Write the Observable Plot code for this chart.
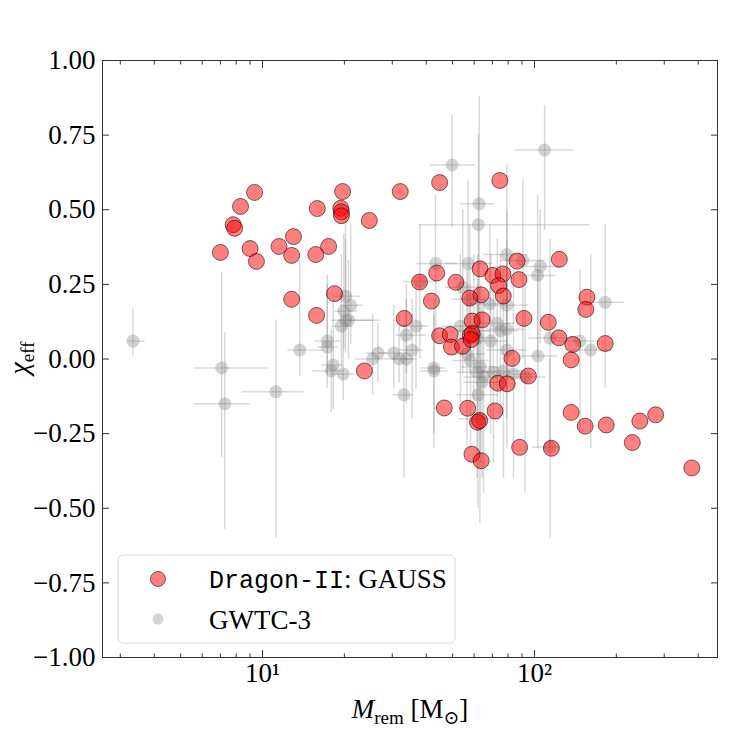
<!DOCTYPE html>
<html><head><meta charset="utf-8">
<script src="https://cdn.jsdelivr.net/npm/d3@7"></script>
<script src="https://cdn.jsdelivr.net/npm/@observablehq/plot@0.6"></script>
<style>body{margin:0;background:#fff}</style>
</head><body>
<script>
// Dragon-II: GAUSS remnants
const dragonM = [7.0,7.8,7.9,8.3,9.35,9.0,9.5,11.5,13.0,12.8,12.8,15.9,15.7,15.8,17.5,18.4,19.4,19.5,19.5,19.7,24.7,23.7,32.1,33.2,37.8,44.8,74.6,43.7,41.8,51.4,63.1,70.3,76.6,86.3,87.7,73.8,76.8,63.6,57.8,123.4,155.9,154.5,91.5,112.4,123,138.3,182,136.4,59,64.2,44.8,49,49.5,54.4,58,59,58.5,82.7,95,73.3,79.4,46.6,56.8,71.6,61.8,62.9,136.4,153.6,183.6,244,279,229,88.2,115.4,58.9,63.7,379];
const dragonChi = [0.357,0.450,0.438,0.511,0.558,0.370,0.327,0.377,0.410,0.347,0.200,0.504,0.350,0.146,0.377,0.219,0.505,0.493,0.480,0.561,0.464,-0.040,0.561,0.136,0.258,0.591,0.598,0.288,0.194,0.257,0.302,0.280,0.285,0.328,0.266,0.246,0.211,0.215,0.204,0.334,0.207,0.166,0.136,0.123,0.071,0.049,0.052,-0.003,0.127,0.131,0.078,0.082,0.040,0.043,0.079,0.085,0.065,0.002,-0.057,-0.081,-0.083,-0.164,-0.165,-0.174,-0.212,-0.206,-0.179,-0.225,-0.221,-0.208,-0.187,-0.280,-0.296,-0.299,-0.319,-0.341,-0.365];

// GWTC-3 events: remnant mass (median, lower, upper) and chi_eff (median, lower, upper)
const gwM   = [3.34,7.08,7.27,11.2,13.7,17.3,17.3,18.2,17.9,19.8,20.2,21.1,19.9,20.2,20.7,19.5,25.4,26.6,30.4,31.8,33.8,33.8,33.1,36.7,35.5,42.7,42.7,43.3,57,79.1,90.6,105,102.7,37.9,54.5,57.8,68.5,79.1,53.4,59.8,61.9,69,73,79,75,56.5,58.2,63.2,61.5,65,64.1,70.7,76.9,79.1,83.7,92.3,62,63,114,147,161,182,103,49.8,109,62.6,62.2,114];
const gwMlo = [3.2,5.6,5.6,8.4,12.4,15.6,16,16.5,15.3,18,18.5,19.3,18.5,18,19,18,22,24,27,28,30,31,30,32,32,38,38,37,47,65,75,90,88,33,47,50,58,65,46,52,53,59,62,67,64,48,50,54,52,55,55,60,65,67,70,77,52,53,95,120,135,150,88,41.5,85,53.4,37.5,98];
const gwMhi = [3.7,10.5,9.0,14.2,16.7,19.5,19,19.8,20,22,23,23.5,22.3,25.5,27,21.5,28,29,34,36,37,40,36,41,39,47,48,52,70,95,110,125,120,44,62,66,80,95,62,69,72,80,85,92,88,66,68,74,72,77,75,83,92,94,100,110,74,75,140,175,195,215,122,60.7,139,71.5,160,125];
const gwChi   = [0.06,-0.03,-0.15,-0.11,0.03,0.06,0.04,-0.02,-0.04,-0.05,0.21,0.18,0.16,0.13,0.13,0.11,0.00,0.02,0.02,0.00,0.00,0.08,-0.12,0.11,0.03,-0.03,-0.04,0.32,0.32,0.35,0.33,0.31,0.28,0.26,0.24,0.20,0.185,0.18,0.11,0.095,0.07,0.06,0.12,0.10,0.095,0.017,-0.005,-0.027,-0.044,-0.06,-0.078,-0.044,-0.04,0.03,-0.05,-0.06,-0.12,-0.20,0.07,0.06,0.03,0.19,0.01,0.65,0.70,0.52,0.45,-0.295];
const gwChiLo = [0.01,-0.33,-0.57,-0.60,-0.06,-0.05,-0.10,-0.17,-0.18,-0.14,0.10,0.05,0.03,0.02,0.00,-0.03,-0.12,-0.08,-0.10,-0.08,-0.15,-0.05,-0.40,-0.10,-0.20,-0.25,-0.30,0.05,0.05,0.00,0.00,0.05,0.00,0.00,-0.05,-0.05,-0.10,-0.10,-0.15,-0.15,-0.20,-0.25,-0.15,-0.20,-0.20,-0.30,-0.30,-0.35,-0.40,-0.45,-0.40,-0.35,-0.40,-0.30,-0.40,-0.45,-0.50,-0.55,-0.30,-0.25,-0.30,-0.10,-0.30,0.44,0.43,0.05,0.00,-0.60];
const gwChiHi = [0.17,0.29,0.09,0.13,0.33,0.28,0.25,0.20,0.10,0.12,0.50,0.45,0.42,0.40,0.33,0.35,0.15,0.12,0.18,0.15,0.25,0.20,0.12,0.25,0.20,0.20,0.15,0.55,0.60,0.65,0.60,0.50,0.55,0.45,0.50,0.45,0.45,0.50,0.35,0.35,0.35,0.35,0.40,0.40,0.35,0.30,0.25,0.25,0.25,0.20,0.20,0.25,0.30,0.35,0.30,0.25,0.20,0.15,0.40,0.30,0.35,0.45,0.30,0.82,0.85,0.88,0.75,0.00];

const yTicks = [-1,-0.75,-0.5,-0.25,0,0.25,0.5,0.75,1];
const xMajor = [10,100];
const xMajorLabels = ["10¹","10²"];
const xMinor = [3,4,5,6,7,8,9,20,30,40,50,60,70,80,90,200,300,400];
const legendLabels = ["Dragon-II", ": GAUSS", "GWTC-3"];

const dragon = dragonM.map((m,i)=>({m, c: dragonChi[i]}));
const gw = gwM.map((m,i)=>({m, mlo: gwMlo[i], mhi: gwMhi[i], c: gwChi[i], clo: gwChiLo[i], chi: gwChiHi[i]}));

const serif = "'Liberation Serif', 'DejaVu Serif', serif";
const mono = "'Liberation Mono', 'DejaVu Sans Mono', monospace";
const axisColor = "#333";

const chart = Plot.plot({
  width: 747, height: 747,
  marginLeft: 102, marginRight: 30, marginTop: 60, marginBottom: 90,
  style: {fontFamily: serif, fontSize: "27px", color: "#000", background: "#fff"},
  x: {type: "log", domain: [2.58, 471], axis: null},
  y: {domain: [-1, 1], axis: null},
  marks: [
    Plot.ruleX(gw, {x: "m", y1: "clo", y2: "chi", stroke: "gray", strokeOpacity: 0.3, strokeWidth: 1.5}),
    Plot.ruleY(gw, {y: "c", x1: "mlo", x2: "mhi", stroke: "gray", strokeOpacity: 0.3, strokeWidth: 1.5}),
    Plot.dot(gw, {x: "m", y: "c", r: 6.5, fill: "gray", fillOpacity: 0.35, stroke: "none"}),
    Plot.dot(dragon, {x: "m", y: "c", r: 8, fill: "red", fillOpacity: 0.5, stroke: "black", strokeOpacity: 0.55, strokeWidth: 1}),
    Plot.frame({stroke: axisColor, strokeWidth: 1}),
    // inward ticks
    Plot.axisY(yTicks, {anchor: "left", tickSize: -7, tickFormat: () => "", stroke: axisColor}),
    Plot.axisY(yTicks, {anchor: "right", tickSize: -7, tickFormat: () => "", stroke: axisColor}),
    Plot.axisX(xMajor, {anchor: "bottom", tickSize: -7, tickFormat: () => "", stroke: axisColor}),
    Plot.axisX(xMajor, {anchor: "top", tickSize: -7, tickFormat: () => "", stroke: axisColor}),
    Plot.axisX(xMinor, {anchor: "bottom", tickSize: -3.5, tickFormat: () => "", stroke: axisColor}),
    Plot.axisX(xMinor, {anchor: "top", tickSize: -3.5, tickFormat: () => "", stroke: axisColor}),
    // tick labels
    Plot.axisY(yTicks, {anchor: "left", tickSize: 0, tickPadding: 7, tickFormat: d3.format(".2f"), fontSize: 27, fill: "#000"}),
    Plot.axisX(xMajor, {anchor: "bottom", tickSize: 0, tickPadding: 5, tickFormat: (d) => xMajorLabels[xMajor.indexOf(d)], fontSize: 27, fill: "#000"})
  ]
});
document.body.appendChild(chart);

const svg = d3.select(chart);
// axis titles
const xl = svg.append("text").attr("x", 410).attr("y", 718).attr("text-anchor", "middle")
  .style("font-family", serif).style("font-size", "27px").attr("fill", "#000");
xl.append("tspan").style("font-style", "italic").text("M");
xl.append("tspan").attr("dy", 6).style("font-size", "19px").text("rem");
xl.append("tspan").attr("dy", -6).text(" [M");
xl.append("tspan").attr("dy", 6).style("font-size", "19px").text("⊙");
xl.append("tspan").attr("dy", -6).text("]");

const yl = svg.append("text").attr("transform", "translate(28,358) rotate(-90)").attr("text-anchor", "middle")
  .style("font-family", serif).style("font-size", "28px").attr("fill", "#000");
yl.append("tspan").style("font-style", "italic").text("χ");
yl.append("tspan").attr("dy", 6).style("font-size", "19px").text("eff");

// legend
const lg = svg.append("g").attr("text-anchor", "start");
lg.append("rect").attr("x", 118).attr("y", 555).attr("width", 337).attr("height", 88).attr("rx", 5)
  .attr("fill", "#fff").attr("fill-opacity", 0.8).attr("stroke", "#d8d8d8");
lg.append("circle").attr("cx", 158).attr("cy", 579).attr("r", 7.5).attr("fill", "red").attr("fill-opacity", 0.5).attr("stroke", "black").attr("stroke-opacity", 0.55);
lg.append("circle").attr("cx", 158).attr("cy", 619).attr("r", 5.5).attr("fill", "gray").attr("fill-opacity", 0.35);
const t1 = lg.append("text").attr("x", 209).attr("y", 588).attr("text-anchor", "start").style("font-size", "25px").attr("fill", "#000");
t1.append("tspan").style("font-family", mono).text(legendLabels[0]);
t1.append("tspan").style("font-family", serif).style("font-size", "27px").text(legendLabels[1]);
lg.append("text").attr("x", 209).attr("y", 629).attr("text-anchor", "start").style("font-family", serif).style("font-size", "27px").attr("fill", "#000").text(legendLabels[2]);
</script>
</body></html>
